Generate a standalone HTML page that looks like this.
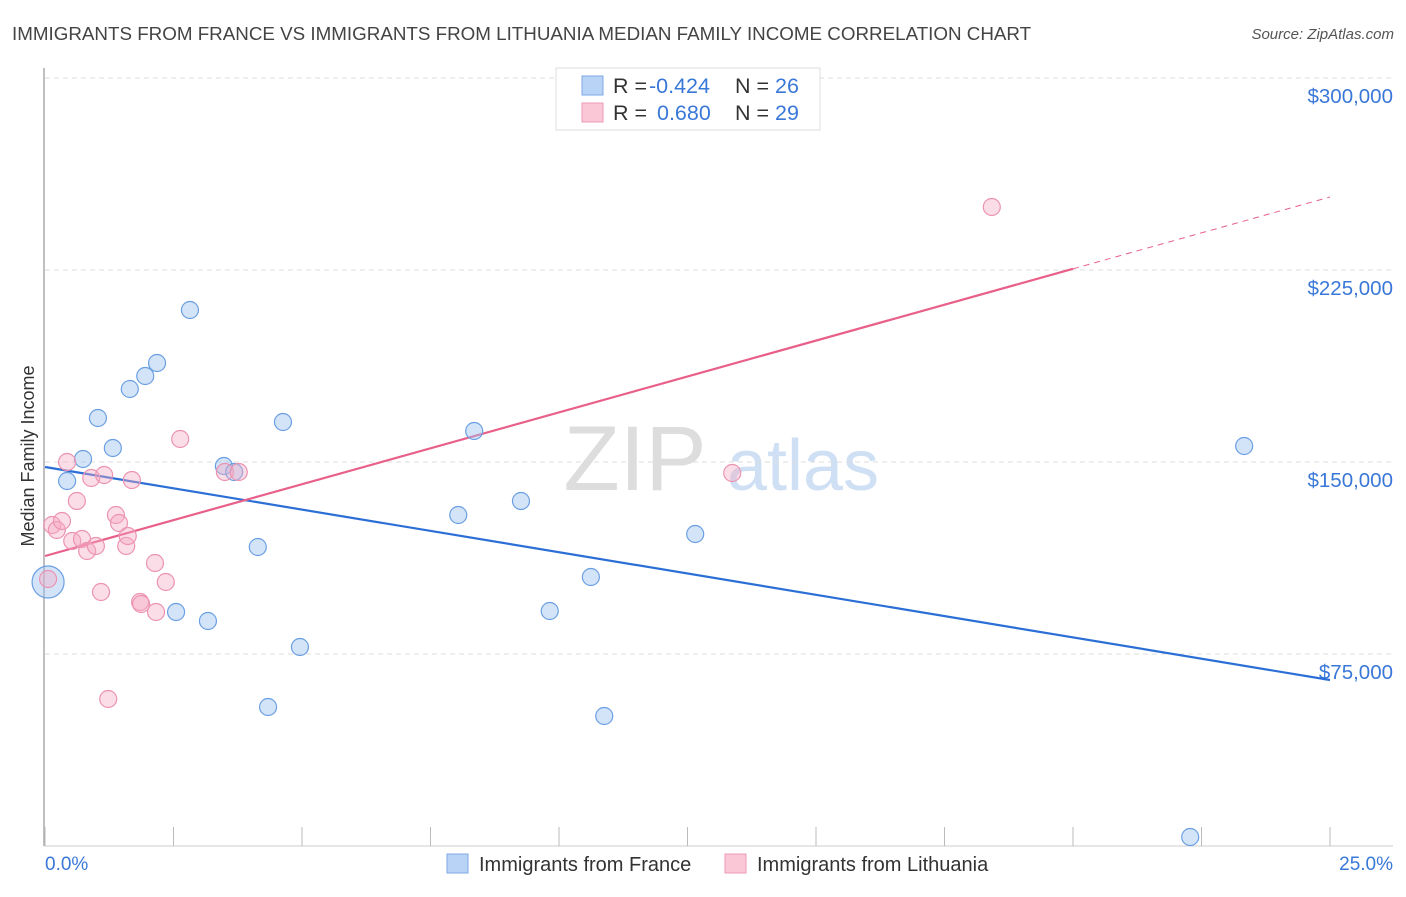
<!DOCTYPE html>
<html><head><meta charset="utf-8"><style>
body{margin:0;background:#fff;font-family:"Liberation Sans",sans-serif;}
svg text{font-family:"Liberation Sans",sans-serif;}
</style></head><body>
<svg id="chart" width="1406" height="892" xmlns="http://www.w3.org/2000/svg">
<text x="12" y="40" font-size="18.8" fill="#444">IMMIGRANTS FROM FRANCE VS IMMIGRANTS FROM LITHUANIA MEDIAN FAMILY INCOME CORRELATION CHART</text>
<text x="1394" y="39" font-size="15" fill="#555" font-style="italic" text-anchor="end">Source: ZipAtlas.com</text>
<text transform="translate(34,456) rotate(-90)" font-size="18" fill="#333" text-anchor="middle">Median Family Income</text>
<g>
<text x="635" y="490" font-size="92" fill="#ddd" font-family="Liberation Serif" text-anchor="middle">ZIP</text>
<text x="803" y="490" font-size="72" fill="#cfe0f5" text-anchor="middle">atlas</text>
</g>
<g id="grid"></g><g id="axes"></g><g id="lines"></g><g id="pts"></g>
<g>
<rect x="556" y="68" width="264" height="62" fill="#fff" stroke="#ddd"/>
<rect x="582" y="76" width="21" height="19" fill="#b8d3f5" stroke="#7ea9e6"/>
<rect x="582" y="103" width="21" height="19" fill="#fac7d6" stroke="#ee9ab4"/>
<text x="613" y="93" font-size="21.5" fill="#333">R = <tspan x="649" fill="#3a78d8">-0.424</tspan><tspan x="735">N = </tspan><tspan fill="#3a78d8">26</tspan></text>
<text x="613" y="120" font-size="21.5" fill="#333">R = <tspan x="657" fill="#3a78d8">0.680</tspan><tspan x="735">N = </tspan><tspan fill="#3a78d8">29</tspan></text>
</g>
<g>
<rect x="447" y="854" width="21" height="19" fill="#b8d3f5" stroke="#7ea9e6"/>
<text x="479" y="871" font-size="20" fill="#333">Immigrants from France</text>
<rect x="725" y="854" width="21" height="19" fill="#fac7d6" stroke="#ee9ab4"/>
<text x="757" y="871" font-size="20" fill="#333">Immigrants from Lithuania</text>
</g>
</svg>
<script>
const yTicks=[75000,150000,225000,300000];
const yTickLabels=["$75,000","$150,000","$225,000","$300,000"];
const xTicks=[0,2.5,5,7.5,10,12.5,15,17.5,20,22.5,25];
const xEndLabels=["0.0%","25.0%"];
const franceX=[0.06,0.43,0.74,1.03,1.32,1.65,1.95,2.18,2.82,3.48,3.68,2.55,3.17,4.14,4.34,4.63,4.96,8.04,8.35,9.26,9.82,10.62,10.88,12.65,22.28,23.33];
const franceY=[103125,142578,151172,167188,155469,178516,183594,188672,209375,148438,146094,91406,87891,116797,54297,165625,77734,129297,162109,134766,91797,105078,50781,121875,3516,156250];
const lithX=[0.06,0.14,0.23,0.33,0.43,0.53,0.62,0.72,0.82,0.90,0.99,1.09,1.15,1.23,1.38,1.44,1.58,1.61,1.69,1.85,1.87,2.14,2.16,2.35,2.63,3.50,3.77,13.37,18.42];
const lithY=[104297,125391,123438,126953,150000,119141,134766,119922,115234,143750,117188,99219,144922,57422,129297,126172,117188,121094,142969,95313,94531,110547,91406,103125,158984,146094,146094,145703,249609];
const franceTrend=[148047,64844];
const lithTrend=[113281,253516];
const lithSolidEnd=20;
const NS="http://www.w3.org/2000/svg";
const xs=v=>45+v/25*1285, ys=v=>846-v/75000*192;
function mk(p,t,a){const e=document.createElementNS(NS,t);for(const k in a)e.setAttribute(k,a[k]);document.getElementById(p).appendChild(e);return e;}
yTicks.forEach((t,i)=>{
 const g=mk('grid','line',{x1:45,x2:1393,y1:ys(t),y2:ys(t),stroke:'#ddd','stroke-dasharray':'5,4'});
 
 
 const l=mk('grid','text',{x:1393,y:ys(t)+25,'font-size':20.5,fill:'#3a78d8','text-anchor':'end'});l.textContent=yTickLabels[i];
 
 
});
mk('axes','line',{x1:44,x2:44,y1:68,y2:846,stroke:'#aaa','stroke-width':1.5});
mk('axes','line',{x1:44,x2:1393,y1:846,y2:846,stroke:'#ccc'});
xTicks.forEach(t=>{const k=mk('axes','line',{x1:xs(t),x2:xs(t),y1:827,y2:846,stroke:'#bbb'});
 
 });
const xl0=mk('axes','text',{x:45,y:870,'font-size':19,fill:'#3a78d8'});xl0.textContent=xEndLabels[0];


const xl1=mk('axes','text',{x:1393,y:870,'font-size':19,fill:'#3a78d8','text-anchor':'end'});xl1.textContent=xEndLabels[1];


const bl=mk('lines','line',{x1:xs(0),y1:ys(franceTrend[0]),x2:xs(25),y2:ys(franceTrend[1]),stroke:'#2b6fd6','stroke-width':2.2});


const ly=x=>lithTrend[0]+(lithTrend[1]-lithTrend[0])*x/25;
const pl=mk('lines','line',{x1:xs(0),y1:ys(ly(0)),x2:xs(lithSolidEnd),y2:ys(ly(lithSolidEnd)),stroke:'#e8608a','stroke-width':2.2});


const pd=mk('lines','line',{x1:xs(lithSolidEnd),y1:ys(ly(lithSolidEnd)),x2:xs(25),y2:ys(ly(25)),stroke:'#e8608a','stroke-width':1,'stroke-dasharray':'6,5'});


franceX.forEach((x,i)=>{const c=mk('pts','circle',{cx:xs(x),cy:ys(franceY[i]),r:i==0?16:8.5,fill:'rgba(160,196,240,0.45)',stroke:'#6a9fe3','stroke-width':1.2});
 
 });
lithX.forEach((x,i)=>{const c=mk('pts','circle',{cx:xs(x),cy:ys(lithY[i]),r:8.5,fill:'rgba(246,170,196,0.4)',stroke:'#ec93b0','stroke-width':1.2});
 
 });
</script>
</body></html>
